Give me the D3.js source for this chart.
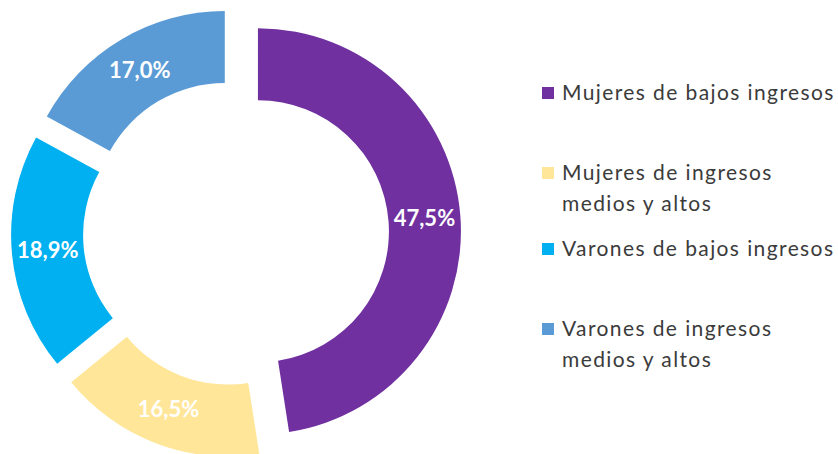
<!DOCTYPE html>
<html>
<head>
<meta charset="utf-8">
<script src="https://cdn.jsdelivr.net/npm/d3@7"></script>
<style>
  body { margin: 0; background: #fff; }
  svg { display: block; }
</style>
</head>
<body>
<svg id="chart" width="838" height="454"></svg>
<script>
// Chart data
var categories = [
  "Mujeres de bajos ingresos",
  "Mujeres de ingresos medios y altos",
  "Varones de bajos ingresos",
  "Varones de ingresos medios y altos"
];
var values = [47.5, 16.5, 18.9, 17.0];
var colors = ["#7030a0", "#ffe699", "#00b0f0", "#5b9bd5"];

// Layout
var cx = 236, cy = 233;
var outerR = 203, innerR = 131;
var explode = 22;

var svg = d3.select("#chart");

// Donut
var pie = d3.pie()
  .sort(null)
  .value(function(d) { return d; });

var arc = d3.arc()
  .innerRadius(innerR)
  .outerRadius(outerR);

var labelArc = d3.arc()
  .innerRadius((innerR + outerR) / 2)
  .outerRadius((innerR + outerR) / 2);

var fmt = function(v) { return v.toFixed(1).replace(".", ",") + "%"; };

var slices = svg.append("g")
  .attr("class", "donut")
  .attr("transform", "translate(" + cx + "," + cy + ")")
  .selectAll("g")
  .data(pie(values))
  .enter().append("g")
  .attr("transform", function(d) {
    // Push each slice outward along its mid angle
    var a = (d.startAngle + d.endAngle) / 2;
    return "translate(" + (explode * Math.sin(a)) + "," + (-explode * Math.cos(a)) + ")";
  });

slices.append("path")
  .attr("d", arc)
  .style("fill", function(d, i) { return colors[i]; });

slices.append("text")
  .attr("transform", function(d) { return "translate(" + labelArc.centroid(d) + ")"; })
  .attr("dy", "0.36em")
  .style("text-anchor", "middle")
  .style("font-family", "Lato, 'Open Sans', sans-serif")
  .style("font-weight", "bold")
  .style("font-size", "22px")
  .style("fill", "#fff")
  .text(function(d) { return fmt(d.data); });

// Legend
var legendX = 542, textX = 562, wrapW = 280, lineH = 31;
var legendY = [100, 180, 256, 336];   // baseline of first line per item

var legend = svg.append("g").attr("class", "legend");

categories.forEach(function(name, i) {
  var g = legend.append("g");
  var t = g.append("text")
    .attr("x", textX)
    .attr("y", legendY[i])
    .style("font-family", "Lato, 'Open Sans', sans-serif")
    .style("font-size", "21px")
    .style("letter-spacing", "1.4px")
    .style("fill", "#3b3b3b");

  // Word wrap
  var words = name.split(" "), line = [];
  var tspan = t.append("tspan").attr("x", textX).attr("dy", 0);
  words.forEach(function(w) {
    line.push(w);
    tspan.text(line.join(" "));
    if (tspan.node().getComputedTextLength() > wrapW && line.length > 1) {
      line.pop();
      tspan.text(line.join(" "));
      line = [w];
      tspan = t.append("tspan").attr("x", textX).attr("dy", lineH).text(w);
    }
  });

  g.append("rect")
    .attr("x", legendX)
    .attr("y", legendY[i] - 13)
    .attr("width", 12)
    .attr("height", 12)
    .style("fill", colors[i]);
});
</script>
</body>
</html>
